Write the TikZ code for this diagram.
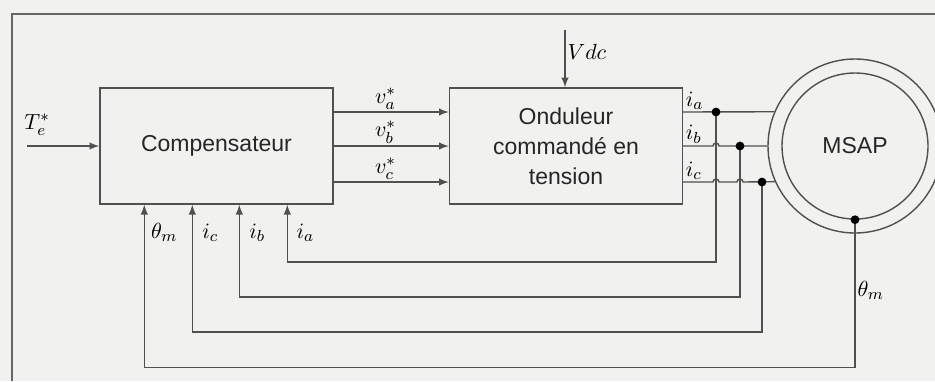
\documentclass[tikz,border=0pt]{standalone}
\usepackage{fontspec}
\setmainfont{Liberation Sans}
\usetikzlibrary{positioning,calc}

\definecolor{bgpaper}{RGB}{241,241,240}
\definecolor{wirecol}{RGB}{80,80,80}

\begin{document}
\begin{tikzpicture}[
	x=0.5pt, y=-0.5pt,
	line width=0.7pt,
	block/.style={rectangle, draw=wirecol, minimum width=116.5pt, minimum height=58pt, align=center, text=black!85, font=\fontsize{11.5}{15}\selectfont},
	motor/.style={circle, draw=wirecol, inner sep=0pt, text=black!85, font=\fontsize{11.5}{15}\selectfont},
	lbl/.style={font=\fontsize{11}{13}\selectfont, inner sep=1pt},
	arrow/.style={-latex, draw=wirecol},
	wire/.style={draw=wirecol},
	frame/.style={draw=black!60, line width=1.3pt}
]
\clip (0,0) rectangle (935,381);
\fill[bgpaper] (0,0) rectangle (935,381);
\draw[frame] (12,381) -- (12,14) -- (935,14);

% blocks
\node (comp) [block] at (216.5,146) {Compensateur};
\node (ond) [block] at (566,146) {Onduleur\\commandé en\\tension};
\node (msapo) [motor, minimum size=87pt] at (855,146) {};
\node (msap) [motor, minimum size=73pt] at (855,146) {MSAP};

% inputs
\coordinate (te) at (27,146);
\coordinate (vdc) at (565,30);
\draw [arrow] (te) -- (comp.west) node[lbl, above, pos=0.14, yshift=4pt] (lte) {$T_e^*$};
\draw [arrow] (vdc) -- (vdc |- ond.north) node[lbl, right, pos=0.38] (lvdc) {$Vdc$};

% voltage references
\draw [arrow] ([yshift=17pt]comp.east) -- ([yshift=17pt]ond.west) node[lbl, above, pos=0.45] (lva) {$v_a^*$};
\draw [arrow] (comp.east) -- (ond.west) node[lbl, above, pos=0.45] (lvb) {$v_b^*$};
\draw [arrow] ([yshift=-18pt]comp.east) -- ([yshift=-18pt]ond.west) node[lbl, above, pos=0.45] (lvc) {$v_c^*$};

% phase currents
\coordinate (ja) at (716,112);
\coordinate (jb) at (740,146);
\coordinate (jc) at (762,182);
\draw [wire] ([yshift=17pt]ond.east) node[lbl, above right] (lia) {$i_a$} -- (msapo.157);
\draw [wire] (ond.east) node[lbl, above right] (lib) {$i_b$} -- ($(ja |- jb)+(-3,0)$) arc[start angle=180, end angle=0, radius=1.5pt] -- (msapo.west);
\draw [wire] ([yshift=-18pt]ond.east) node[lbl, above right] (lic) {$i_c$} -- ($(ja |- jc)+(-3,0)$) arc[start angle=180, end angle=0, radius=1.5pt]
	-- ($(jb |- jc)+(-3,0)$) arc[start angle=180, end angle=0, radius=1.5pt] -- (msapo.204);

% feedback
\coordinate (ca) at ([xshift=94pt]comp.south west);
\coordinate (cb) at ([xshift=70pt]comp.south west);
\coordinate (cc) at ([xshift=46.5pt]comp.south west);
\coordinate (cth) at ([xshift=22.5pt]comp.south west);
\draw [arrow] (ja) -- ++(0,150) -| (ca);
\draw [arrow] (jb) -- ++(0,151) -| (cb);
\draw [arrow] (jc) -- ++(0,150) -| (cc);
\draw [arrow] (msap.south) -- ++(0,148) -| (cth);
\foreach \j in {ja,jb,jc,msap.south}
	\fill (\j) circle (2.2pt);

\node (lfa) [lbl] at ([shift={(9pt,-14pt)}]ca) {$i_a$};
\node (lfb) [lbl] at ([shift={(9pt,-14pt)}]cb) {$i_b$};
\node (lfc) [lbl] at ([shift={(9pt,-14pt)}]cc) {$i_c$};
\node (lfth) [lbl] at ([shift={(10pt,-14pt)}]cth) {$\theta_m$};
\node (lth) [lbl, right] at ($(msap.south)+(0,71)$) {$\theta_m$};
\end{tikzpicture}
\end{document}
